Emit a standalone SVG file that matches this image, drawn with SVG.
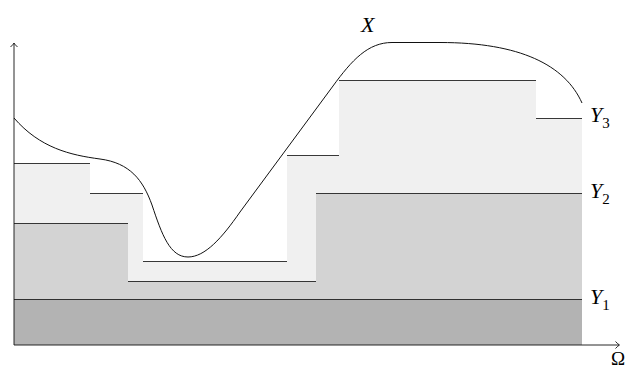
<svg xmlns="http://www.w3.org/2000/svg" width="626" height="369" viewBox="0 0 626 369">
  <style>
    .step { stroke: #222; stroke-width: 0.9; fill: none; }
    .curve { stroke: #111; stroke-width: 1; fill: none; }
    .axis { stroke: #111; stroke-width: 0.9; fill: none; }
    .lbl { font-family: "Liberation Serif", "DejaVu Serif", serif; font-style: italic; font-size: 22px; fill: #000; }
    .sub { font-family: "Liberation Serif", "DejaVu Serif", serif; font-style: normal; font-size: 15px; fill: #000; }
    .omega { font-family: "Liberation Serif", "DejaVu Serif", serif; font-size: 19px; fill: #000; }
  </style>
  <defs>
    <marker id="arr" viewBox="-5 -5 7 10" markerWidth="7" markerHeight="10" refX="0" refY="0" orient="auto" markerUnits="userSpaceOnUse">
      <path d="M-3.5,-3.5 Q-1,-0.8 0.5,0 Q-1,0.8 -3.5,3.5" fill="none" stroke="#111" stroke-width="0.9"/>
    </marker>
  </defs>
  <rect width="626" height="369" fill="#fff"/>

  <g id="layer-Y3">
    <polygon points="14,163 90,163 90,193 143,193 143,261 287,261 287,155 339,155 339,80 536,80 536,118 582,118 582,345 14,345" fill="#f0f0f0"/>
  </g>
  <g id="layer-Y2">
    <polygon points="14,223 128,223 128,281 316,281 316,193 582,193 582,299 14,299" fill="#d3d3d3"/>
  </g>
  <g id="layer-Y1">
    <rect x="14" y="299" width="568" height="46" fill="#b3b3b3"/>
  </g>

  <g id="connectors">
    <path class="step" d="M14,163.5H90M90,193.5H143M143,261.5H287M287,155.5H339M339,80.5H536M536,118.5H582"/>
    <path class="step" d="M14,223.5H128M128,281.5H316M316,193.5H582"/>
    <path class="step" d="M14,299.5H582"/>
    <path class="curve" d="M14,118 C40,148 70,155 100,159 C130,163 143,180 152,205 C162,235 170,257 188,257 C205,257 222,238 240,212 L333,86 C352,60 368,42.5 392,42.5 L440,42.5 C520,42.5 565,65 582,103"/>
    <path class="axis" d="M14,345 V43.5" marker-end="url(#arr)"/>
    <path class="axis" d="M14,345 H619" marker-end="url(#arr)"/>
  </g>

  <g id="labels">
    <text class="lbl" x="361" y="31.5">X</text>
    <text class="lbl" x="590" y="122">Y<tspan class="sub" dx="0" dy="6">3</tspan></text>
    <text class="lbl" x="590" y="198">Y<tspan class="sub" dx="0" dy="6">2</tspan></text>
    <text class="lbl" x="590" y="304">Y<tspan class="sub" dx="0" dy="6">1</tspan></text>
    <text class="omega" x="618" y="365" text-anchor="middle">Ω</text>
  </g>
</svg>
